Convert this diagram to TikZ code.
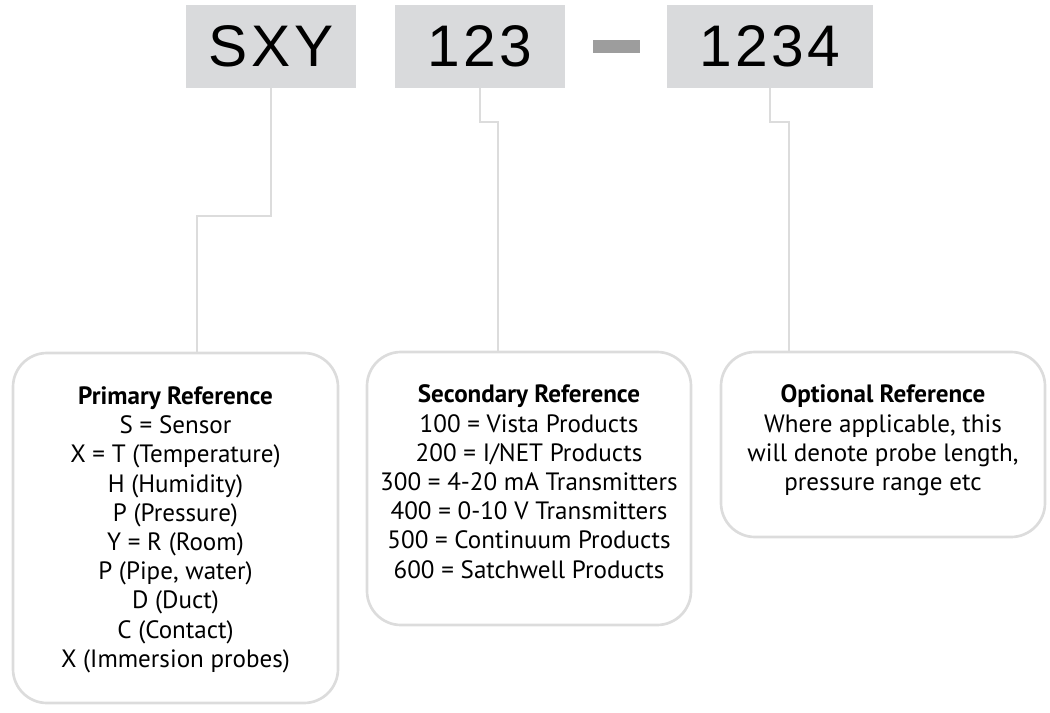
\documentclass[tikz,border=0pt]{standalone}
\usepackage{fontspec}
\setmainfont{PT Sans}
\newfontfamily\codefont[LetterSpace=6]{Liberation Sans}
\usetikzlibrary{positioning}

\definecolor{codegray}{HTML}{D9DADC}
\definecolor{dashgray}{HTML}{9D9D9D}
\definecolor{linegray}{HTML}{DCDCDC}

\tikzset{
  codebox/.style={fill=codegray, inner sep=0pt, minimum height=62.25pt,
    font=\codefont\fontsize{44}{44}\selectfont},
  refbox/.style={draw=linegray, line width=2pt, rounded corners=25.5pt},
  reftext/.style={align=center, inner sep=0pt,
    font=\fontsize{18.8}{21.9}\selectfont},
  link/.style={draw=linegray, line width=2pt}
}

\begin{document}
\begin{tikzpicture}[x=0.75pt, y=-0.75pt]
    \useasboundingbox (0,0) rectangle (1050,713);

    % code boxes along the top
    \node[codebox, minimum width=127.5pt] (sxy) at (271,46.5) {SXY};
    \node[codebox, minimum width=127.5pt] (num) at (480,46.5) {123};
    \node[fill=dashgray, inner sep=0pt, minimum width=35.25pt,
      minimum height=9.75pt] (dash) at (616.5,46.5) {};
    \node[codebox, minimum width=154.5pt] (suffix) at (770,46.5) {1234};

    % reference boxes
    \node[refbox, minimum width=243.75pt, minimum height=262.5pt]
      (primary) at (175.5,528) {};
    \node[refbox, minimum width=243pt, minimum height=204.75pt]
      (secondary) at (529,488.5) {};
    \node[refbox, minimum width=243pt, minimum height=138.75pt]
      (optional) at (883,444.5) {};

    \node[reftext, below=26pt of primary.north] (primarytext)
      {\textbf{Primary Reference}\\
      S = Sensor\\ X = T (Temperature)\\ H (Humidity)\\ P (Pressure)\\
      Y = R (Room)\\ P (Pipe, water)\\ D (Duct)\\ C (Contact)\\
      X (Immersion probes)};
    \node[reftext, below=25.5pt of secondary.north] (secondarytext)
      {\textbf{Secondary Reference}\\
      100 = Vista Products\\ 200 = I/NET Products\\
      300 = 4-20 mA Transmitters\\ 400 = 0-10 V Transmitters\\
      500 = Continuum Products\\ 600 = Satchwell Products};
    \node[reftext, below=25.5pt of optional.north] (optionaltext)
      {\textbf{Optional Reference}\\
      Where applicable, this\\ will denote probe length,\\
      pressure range etc};

    % connectors
    \coordinate (pjog) at (197,216);
    \coordinate (sjog) at (498,122);
    \coordinate (ojog) at (789,122);

    \draw[link] (sxy.south) |- (pjog) -- (pjog |- primary.north);
    \draw[link] (num.south) |- (sjog) -- (sjog |- secondary.north);
    \draw[link] (suffix.south) |- (ojog) -- (ojog |- optional.north);

  \end{tikzpicture}
\end{document}
